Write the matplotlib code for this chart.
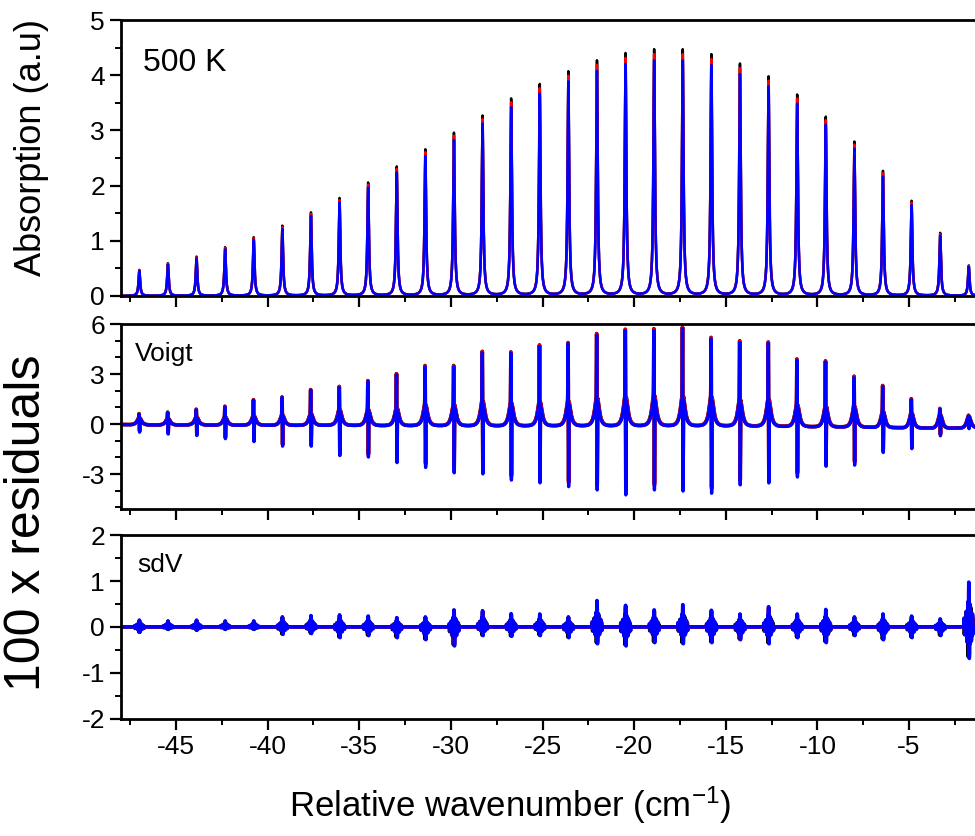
import numpy as np
import matplotlib
matplotlib.use("Agg")
import matplotlib.pyplot as plt
from matplotlib.ticker import MultipleLocator

plt.rcParams['font.family'] = ['Liberation Sans', 'DejaVu Sans']
plt.rcParams['mathtext.default'] = 'regular'
plt.rcParams['axes.unicode_minus'] = False

# line positions (cm-1) and peak heights
line_pos = np.linspace(-47.0, -1.74, 30)
peak_h = [0.47, 0.59, 0.71, 0.88, 1.06, 1.27, 1.51, 1.77, 2.05, 2.34,
          2.65, 2.95, 3.26, 3.57, 3.83, 4.06, 4.26, 4.39, 4.46, 4.46,
          4.37, 4.20, 3.97, 3.64, 3.24, 2.79, 2.26, 1.72, 1.14, 0.55]

# Voigt residuals (x100): spike top / spike bottom / hump at line centre / baseline
voigt_up = [0.6, 0.7, 0.88, 1.06, 1.46, 1.62, 2.08, 2.24, 2.6, 3.02,
            3.5, 3.5, 4.36, 4.32, 4.76, 4.9, 5.42, 5.7, 5.72, 5.82,
            5.2, 5.0, 4.92, 3.92, 3.8, 2.86, 2.32, 1.5, 0.9, 0.46]
voigt_down = [-0.48, -0.58, -0.66, -0.86, -1.02, -1.3, -1.3, -1.84, -1.94, -2.28,
              -2.54, -2.88, -2.94, -3.3, -3.48, -3.7, -3.88, -4.2, -3.88, -3.94,
              -4.1, -3.58, -3.46, -3.14, -2.48, -2.4, -1.68, -1.44, -0.68, -0.3]
voigt_hump = [0.36, 0.34, 0.42, 0.42, 0.5, 0.54, 0.62, 0.86, 0.86, 0.94,
              1.16, 1.16, 1.36, 1.26, 1.32, 1.36, 1.56, 1.62, 1.7, 1.66,
              1.62, 1.46, 1.46, 1.16, 1.06, 1.06, 0.76, 0.66, 0.56, 0.42]
voigt_base = [-0.1, -0.1, -0.1, -0.12, -0.12, -0.14, -0.14, -0.16, -0.18, -0.2,
              -0.2, -0.22, -0.24, -0.24, -0.24, -0.24, -0.26, -0.26, -0.26, -0.26,
              -0.26, -0.26, -0.28, -0.28, -0.3, -0.3, -0.32, -0.34, -0.36, -0.36]

# sdV residuals (x100): burst extremes around each line
sdv_up = [0.12, 0.1, 0.12, 0.1, 0.1, 0.2, 0.23, 0.25, 0.22, 0.18,
          0.2, 0.37, 0.35, 0.28, 0.27, 0.2, 0.6, 0.48, 0.37, 0.5,
          0.36, 0.27, 0.45, 0.27, 0.38, 0.2, 0.27, 0.22, 0.15, 1.04]
sdv_down = [-0.17, -0.1, -0.12, -0.1, -0.1, -0.22, -0.2, -0.3, -0.25, -0.3,
            -0.35, -0.5, -0.25, -0.27, -0.25, -0.3, -0.45, -0.5, -0.42, -0.45,
            -0.42, -0.35, -0.45, -0.3, -0.42, -0.25, -0.35, -0.3, -0.25, -0.8]

x = np.arange(-48.0, -1.4, 0.002)


def lor(dx, g):
    return g**2 / (g**2 + dx**2)


def spike(dx, s=0.008):
    return np.exp(-dx**2 / (2 * s**2))


def absorption(scale):
    y = np.zeros_like(x)
    for c, h in zip(line_pos, peak_h):
        y += h * scale * lor(x - c, 0.05)
    return y


def voigt_res(hump_scale, spike_scale):
    y = np.zeros_like(x)
    for c, up, dn, hm, b in zip(line_pos, voigt_up, voigt_down, voigt_hump, voigt_base):
        dx = x - c
        y += b * lor(dx, 0.6) + (hm * hump_scale - 1.3 * b) * lor(dx, 0.15)
        y += spike_scale * ((up - hm) * spike(dx + 0.015) + (dn - hm) * spike(dx - 0.015))
    return y


# shape of a residual burst: offsets (cm-1) and signed weights
burst_a = ([-0.26, -0.19, -0.13, -0.08, -0.04, 0.0, 0.03, 0.08, 0.14, 0.2, 0.27],
           [0.2, -0.25, 0.35, -0.5, 0.55, 1.0, -1.0, 0.5, -0.45, 0.3, -0.2])
burst_b = ([-0.24, -0.16, -0.09, -0.03, 0.01, 0.06, 0.12, 0.19, 0.25],
           [-0.25, 0.35, -0.5, -1.0, 1.0, -0.6, 0.45, -0.3, 0.2])


def sdv_res(burst, scale):
    y = np.zeros_like(x)
    offs, wts = burst
    for c, up, dn in zip(line_pos, sdv_up, sdv_down):
        for o, w in zip(offs, wts):
            amp = up if w > 0 else -dn
            y += scale * w * amp * spike(x - c - o, 0.007)
        y += 0.04 * lor(x - c, 0.1)
    return y


fig = plt.figure(figsize=(9.75, 8.36), dpi=100)
ax1 = fig.add_axes([0.1241, 0.646, 0.8759, 0.330])
ax2 = fig.add_axes([0.1241, 0.391, 0.8759, 0.2213])
ax3 = fig.add_axes([0.1241, 0.140, 0.8759, 0.220])

ax1.plot(x, absorption(1.0), color='black', lw=1.8)
ax1.plot(x, absorption(0.98), color='red', lw=1.8)
ax1.plot(x, absorption(0.955), color='blue', lw=1.8)

ax2.plot(x, voigt_res(1.08, 0.97), color='black', lw=2.6)
ax2.plot(x, voigt_res(1.04, 0.98), color='red', lw=2.6)
ax2.plot(x, voigt_res(0.95, 1.0), color='blue', lw=2.4)

ax3.plot(x, sdv_res(burst_b, 0.85), color='black', lw=2.6)
ax3.plot(x, sdv_res(burst_a, 0.8), color='red', lw=2.6)
ax3.plot(x, sdv_res(burst_a, 0.9), color='blue', lw=2.6)

ax1.set_ylim(0, 5)
ax2.set_ylim(-5.1, 6)
ax3.set_ylim(-2, 2)
ax1.yaxis.set_major_locator(MultipleLocator(1))
ax1.yaxis.set_minor_locator(MultipleLocator(0.5))
ax2.yaxis.set_major_locator(MultipleLocator(3))
ax2.yaxis.set_minor_locator(MultipleLocator(1))
ax3.yaxis.set_major_locator(MultipleLocator(1))
ax3.yaxis.set_minor_locator(MultipleLocator(0.5))

for ax in (ax1, ax2, ax3):
    ax.set_xlim(-48.0, -1.4)
    ax.xaxis.set_major_locator(MultipleLocator(5))
    ax.xaxis.set_minor_locator(MultipleLocator(2.5))
    ax.spines['right'].set_visible(False)
    for s in ('left', 'bottom', 'top'):
        ax.spines[s].set_linewidth(2)
    ax.tick_params(which='major', direction='out', length=8, width=1.6, labelsize=19)
    ax.tick_params(which='minor', direction='out', length=4.5, width=1.4)
    ax.tick_params(top=False, right=False, which='both')

ax1.tick_params(labelbottom=False)
ax2.tick_params(labelbottom=False)

fig.text(0.032, 0.823, 'Absorption (a.u)', rotation=90, ha='center', va='center', fontsize=26)
fig.text(0.028, 0.375, '100 x residuals', rotation=90, ha='center', va='center', fontsize=36)
fig.text(0.523, 0.037, 'Relative wavenumber (cm$^{-1}$)', ha='center', va='center', fontsize=25)

fig.text(0.1467, 0.9246, '500 K', ha='left', va='center', fontsize=23)
fig.text(0.1385, 0.5766, 'Voigt', ha='left', va='center', fontsize=19)
fig.text(0.1405, 0.3242, 'sdV', ha='left', va='center', fontsize=19)

fig.savefig('out.png', dpi=100)
